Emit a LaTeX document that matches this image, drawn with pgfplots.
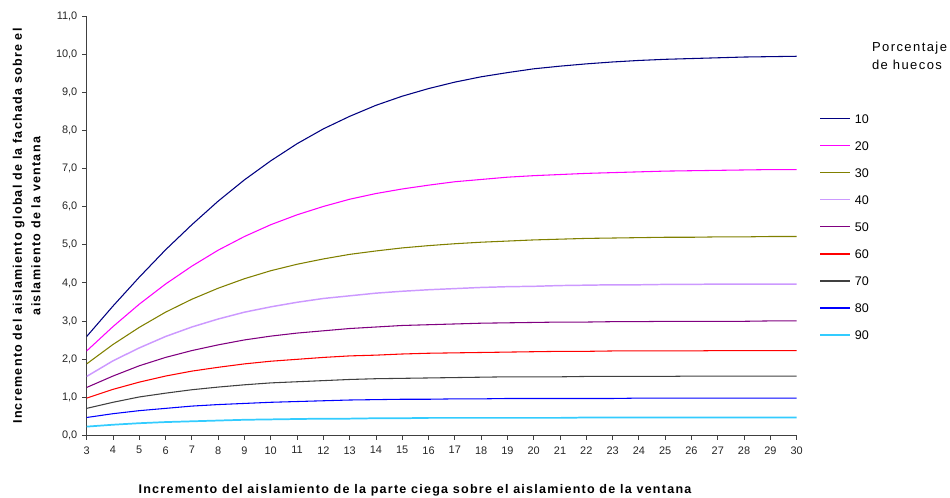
\documentclass[border=0pt]{standalone}
\usepackage{fontspec}
\setmainfont{Liberation Sans}
\usepackage{pgfplots}
\usepackage{pgfplotstable}
\pgfplotsset{compat=1.18}

\pgfplotstableread{
D  p10  p20  p30  p40  p50  p60  p70  p80  p90
3  2.59 2.21 1.87 1.54 1.25 0.97 0.70 0.46 0.22
4  3.39 2.85 2.38 1.95 1.55 1.20 0.86 0.56 0.27
5  4.15 3.44 2.83 2.29 1.82 1.39 1.00 0.64 0.31
6  4.87 3.97 3.23 2.59 2.04 1.55 1.10 0.70 0.34
7  5.53 4.44 3.57 2.84 2.22 1.68 1.19 0.76 0.36
8  6.15 4.86 3.86 3.05 2.37 1.78 1.26 0.80 0.38
9  6.71 5.22 4.11 3.23 2.50 1.87 1.32 0.83 0.40
10 7.21 5.53 4.32 3.37 2.60 1.94 1.37 0.86 0.41
11 7.66 5.79 4.49 3.49 2.68 1.99 1.40 0.88 0.42
12 8.05 6.01 4.63 3.59 2.74 2.04 1.43 0.90 0.43
13 8.38 6.20 4.75 3.66 2.80 2.08 1.46 0.92 0.43
14 8.67 6.35 4.84 3.73 2.84 2.10 1.48 0.93 0.44
15 8.91 6.47 4.92 3.78 2.88 2.13 1.49 0.94 0.44
16 9.11 6.57 4.98 3.82 2.90 2.15 1.50 0.94 0.45
17 9.28 6.66 5.03 3.85 2.92 2.16 1.51 0.95 0.45
18 9.42 6.72 5.07 3.88 2.94 2.17 1.52 0.95 0.45
19 9.53 6.78 5.10 3.90 2.95 2.18 1.53 0.96 0.45
20 9.63 6.82 5.13 3.91 2.96 2.19 1.53 0.96 0.45
21 9.70 6.85 5.15 3.93 2.97 2.20 1.53 0.96 0.45
22 9.76 6.88 5.17 3.94 2.97 2.20 1.54 0.96 0.46
23 9.81 6.90 5.18 3.95 2.98 2.21 1.54 0.96 0.46
24 9.85 6.92 5.19 3.95 2.98 2.21 1.54 0.97 0.46
25 9.88 6.94 5.20 3.96 2.99 2.21 1.54 0.97 0.46
26 9.90 6.95 5.20 3.96 2.99 2.21 1.55 0.97 0.46
27 9.92 6.96 5.21 3.97 2.99 2.22 1.55 0.97 0.46
28 9.94 6.97 5.21 3.97 2.99 2.22 1.55 0.97 0.46
29 9.95 6.98 5.22 3.97 3.00 2.22 1.55 0.97 0.46
30 9.96 6.98 5.22 3.97 3.00 2.22 1.55 0.97 0.46
}\datatable

\definecolor{colA}{RGB}{0,0,128}
\definecolor{colB}{RGB}{255,0,255}
\definecolor{colC}{RGB}{128,128,0}
\definecolor{colD}{RGB}{204,153,255}
\definecolor{colE}{RGB}{128,0,128}
\definecolor{colF}{RGB}{255,0,0}
\definecolor{colG}{RGB}{64,64,64}
\definecolor{colH}{RGB}{0,0,255}
\definecolor{colI}{RGB}{51,204,255}
\definecolor{axgray}{RGB}{64,64,64}

\pgfplotsset{
  mylegend/.style={legend image code/.code={\draw[draw=#1, line width=1.1pt] (0pt,0pt) -- (22.5pt,0pt);}},
}

\begin{document}
\begin{tikzpicture}
\useasboundingbox (0,0) rectangle (712.5pt,373.5pt);
\begin{axis}[
  at={(65pt,47.25pt)}, anchor=south west,
  scale only axis, width=532.5pt, height=313.7pt,
  xmin=3, xmax=30, ymin=0, ymax=11,
  axis lines=left, axis line style={axgray, -, line width=0.6pt},
  xtick={3,...,30}, ytick={0,...,11},
  tick align=outside, major tick length=3.5pt,
  tick style={axgray, line width=0.6pt},
  /pgf/number format/assume math mode=true,
  yticklabel style={/pgf/number format/fixed, /pgf/number format/fixed zerofill, /pgf/number format/precision=1, /pgf/number format/use comma},
  xticklabel style={yshift=-1.5pt},
  tick label style={font=\fontsize{8.2}{9.6}\selectfont, text=black!85},
  legend cell align=left,
  legend style={draw=none, fill=none, at={(1.0318,0.7686)}, anchor=north west,
    inner sep=0pt, row sep=13.3pt, column sep=3pt,
    nodes={inner sep=0pt, text height=7pt, text depth=0pt},
    font=\fontsize{9.4}{11}\selectfont},
]
\addplot[draw=colA, line width=0.8pt, mylegend=colA] table[x=D,y=p10]{\datatable}; \addlegendentry{10}
\addplot[draw=colB, line width=0.8pt, mylegend=colB] table[x=D,y=p20]{\datatable}; \addlegendentry{20}
\addplot[draw=colC, line width=0.8pt, mylegend=colC] table[x=D,y=p30]{\datatable}; \addlegendentry{30}
\addplot[draw=colD, line width=1.1pt, mylegend=colD] table[x=D,y=p40]{\datatable}; \addlegendentry{40}
\addplot[draw=colE, line width=0.8pt, mylegend=colE] table[x=D,y=p50]{\datatable}; \addlegendentry{50}
\addplot[draw=colF, line width=0.8pt, mylegend=colF] table[x=D,y=p60]{\datatable}; \addlegendentry{60}
\addplot[draw=colG, line width=0.8pt, mylegend=colG] table[x=D,y=p70]{\datatable}; \addlegendentry{70}
\addplot[draw=colH, line width=0.8pt, mylegend=colH] table[x=D,y=p80]{\datatable}; \addlegendentry{80}
\addplot[draw=colI, line width=1.3pt, mylegend=colI] table[x=D,y=p90]{\datatable}; \addlegendentry{90}
\end{axis}
\node[rotate=90, align=center, inner sep=0pt, font=\bfseries\fontsize{9.4}{13.8}\selectfont\addfontfeature{LetterSpace=10}]
  at (20pt,204pt) {Incremento del aislamiento global de la fachada sobre el\\aislamiento de la ventana};
\node[anchor=base, inner sep=0pt, font=\bfseries\fontsize{9.4}{11}\selectfont\addfontfeature{LetterSpace=10}]
  at (311.25pt,3pt) {Incremento del aislamiento de la parte ciega sobre el aislamiento de la ventana};
\node[anchor=base west, inner sep=0pt, align=left, font=\fontsize{9.75}{13.9}\selectfont\addfontfeature{LetterSpace=11}]
  at (653.8pt,321pt) {Porcentaje\\de huecos};
\end{tikzpicture}
\end{document}
